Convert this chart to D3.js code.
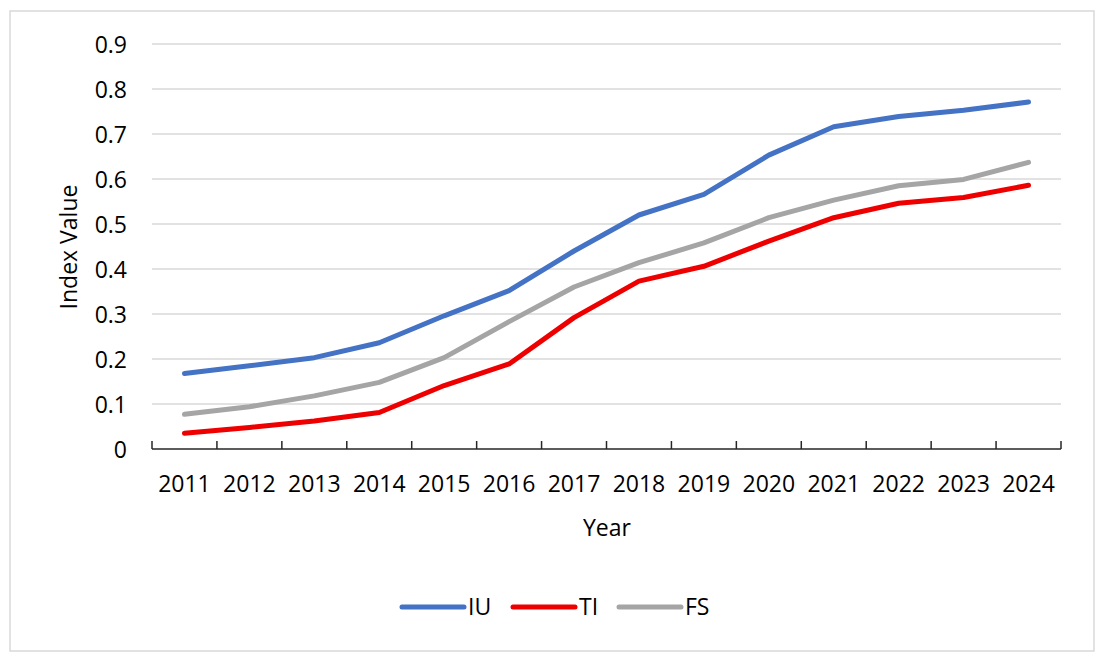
<!DOCTYPE html>
<html>
<head>
<meta charset="utf-8">
<script src="https://cdn.jsdelivr.net/npm/d3@7"></script>
<style>
  body { margin: 0; background: #fff; }
  svg text { font-family: "Open Sans", "Noto Sans", sans-serif; fill: #000; }
</style>
</head>
<body>
<svg id="chart" width="1104" height="661"></svg>
<script>
/*************** data ***************/
var years = ["2011","2012","2013","2014","2015","2016","2017","2018","2019","2020","2021","2022","2023","2024"];
var iuValues = [0.168,0.185,0.203,0.236,0.296,0.352,0.440,0.520,0.566,0.653,0.716,0.739,0.753,0.771];
var tiValues = [0.035,0.048,0.062,0.081,0.141,0.189,0.292,0.373,0.406,0.462,0.514,0.546,0.559,0.586];
var fsValues = [0.077,0.094,0.118,0.148,0.203,0.283,0.360,0.414,0.458,0.514,0.553,0.585,0.599,0.637];
var yTicks = [0,0.1,0.2,0.3,0.4,0.5,0.6,0.7,0.8,0.9];
var seriesNames = ["IU","TI","FS"];
var seriesColors = ["#4472c4","#ee0000","#a5a5a5"];

var series = [
  {name: seriesNames[0], color: seriesColors[0], values: iuValues},
  {name: seriesNames[1], color: seriesColors[1], values: tiValues},
  {name: seriesNames[2], color: seriesColors[2], values: fsValues}
];

/*************** layout ***************/
var svg = d3.select("#chart");
var plot = {left: 152, right: 1061, top: 44, bottom: 449};
var fontSize = "23px";

// outer frame
svg.append("rect")
   .attr("x", 10).attr("y", 11)
   .attr("width", 1084).attr("height", 640)
   .attr("fill", "#fff")
   .attr("stroke", "#d9d9d9")
   .attr("stroke-width", 1.5);

var x = d3.scaleBand().domain(years).range([plot.left, plot.right]).padding(0);
var y = d3.scaleLinear().domain([0, 0.9]).range([plot.bottom, plot.top]);

// gridlines
svg.append("g")
   .selectAll("line")
   .data(yTicks.filter(function(d){ return d > 0; }))
   .enter()
   .append("line")
   .attr("x1", plot.left).attr("x2", plot.right)
   .attr("y1", function(d){ return y(d); })
   .attr("y2", function(d){ return y(d); })
   .attr("stroke", "#d9d9d9")
   .attr("stroke-width", 1.5);

// y axis labels
var yAxis = d3.axisLeft(y).tickValues(yTicks).tickSize(0).tickPadding(25)
              .tickFormat(function(d){ return d === 0 ? "0" : d3.format(".1f")(d); });
var gy = svg.append("g").attr("transform", "translate(" + plot.left + ",0)").call(yAxis);
gy.select(".domain").remove();
gy.selectAll("text").style("font-size", fontSize).attr("dy", "0.36em");

// x axis: ticks inside, at band boundaries
var xAxisLine = svg.append("g");
xAxisLine.append("line")
   .attr("x1", plot.left).attr("x2", plot.right)
   .attr("y1", plot.bottom).attr("y2", plot.bottom)
   .attr("stroke", "#262626").attr("stroke-width", 1.5);
var bounds = years.map(function(d){ return x(d); }).concat([x(years[years.length-1]) + x.bandwidth()]);
xAxisLine.selectAll("line.tick")
   .data(bounds)
   .enter()
   .append("line")
   .attr("class", "tick")
   .attr("x1", function(d){ return d; }).attr("x2", function(d){ return d; })
   .attr("y1", plot.bottom).attr("y2", plot.bottom - 8)
   .attr("stroke", "#262626").attr("stroke-width", 1.5);
xAxisLine.selectAll("text")
   .data(years)
   .enter()
   .append("text")
   .attr("x", function(d){ return x(d) + x.bandwidth() / 2; })
   .attr("y", 492)
   .attr("text-anchor", "middle")
   .style("font-size", fontSize)
   .text(function(d){ return d; });

// axis titles
svg.append("text")
   .attr("x", 607).attr("y", 536)
   .attr("text-anchor", "middle")
   .style("font-size", fontSize)
   .text("Year");
svg.append("text")
   .attr("transform", "translate(77,247) rotate(-90)")
   .attr("text-anchor", "middle")
   .style("font-size", fontSize)
   .text("Index Value");

// lines
var line = d3.line()
   .x(function(d, i){ return x(years[i]) + x.bandwidth() / 2; })
   .y(function(d){ return y(d); });

svg.append("g")
   .selectAll("path")
   .data(series)
   .enter()
   .append("path")
   .attr("d", function(d){ return line(d.values); })
   .attr("fill", "none")
   .attr("stroke", function(d){ return d.color; })
   .attr("stroke-width", 5)
   .attr("stroke-linecap", "round")
   .attr("stroke-linejoin", "round");

// legend
var legendX = [402, 513, 619];
var legend = svg.append("g")
   .selectAll("g")
   .data(series)
   .enter()
   .append("g")
   .attr("transform", function(d, i){ return "translate(" + legendX[i] + ",607)"; });
legend.append("line")
   .attr("x1", 0).attr("x2", 62)
   .attr("y1", 0).attr("y2", 0)
   .attr("stroke", function(d){ return d.color; })
   .attr("stroke-width", 5)
   .attr("stroke-linecap", "round");
legend.append("text")
   .attr("x", 66).attr("y", 0).attr("dy", "0.36em")
   .style("font-size", fontSize)
   .text(function(d){ return d.name; });
</script>
</body>
</html>
